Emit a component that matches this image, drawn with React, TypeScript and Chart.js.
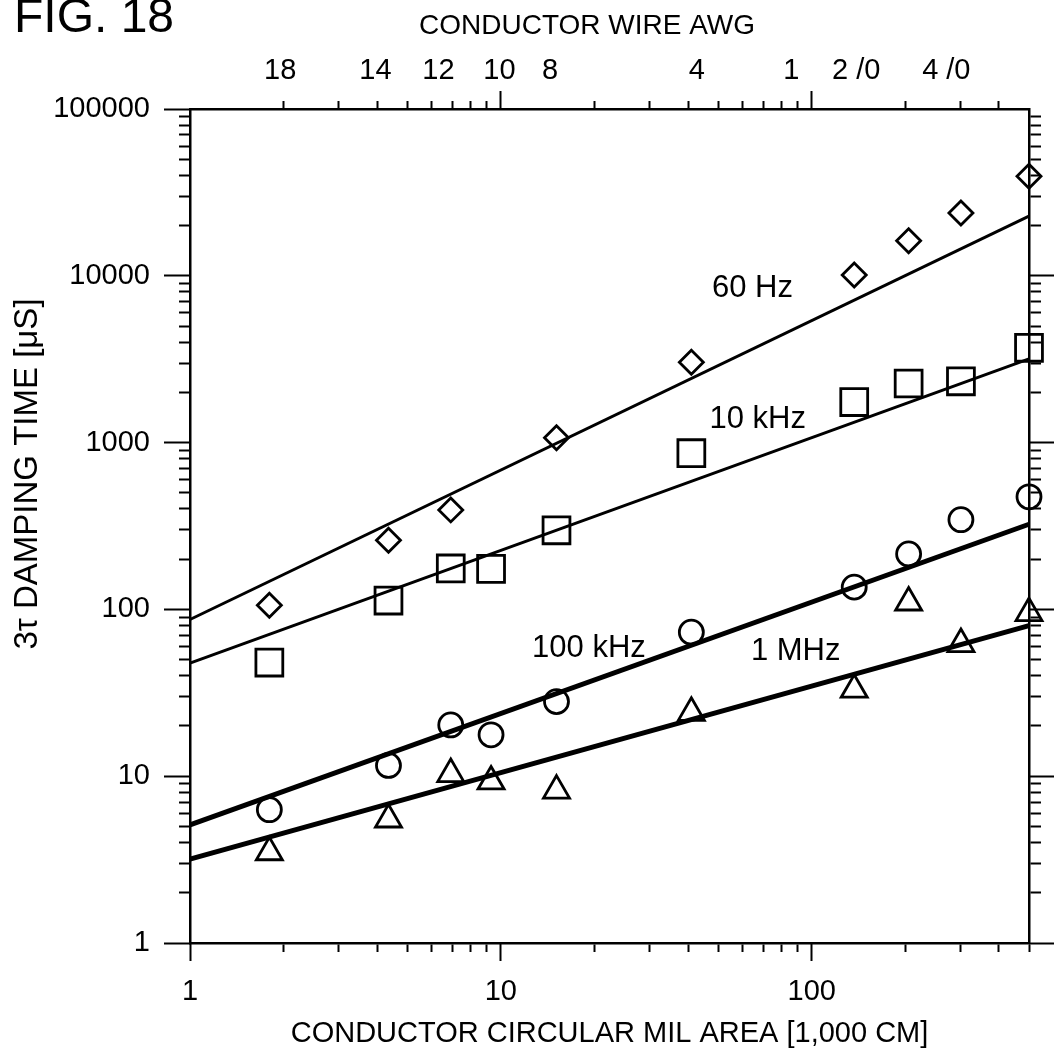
import { useEffect, useRef } from 'react';
import { Chart, registerables } from 'chart.js';

Chart.register(...registerables);

// Conductor size of each tested wire, in thousands of circular mils
const WIRE_KCMIL = [1.8, 4.35, 6.9, 9.3, 15.1, 41, 137, 205, 302, 500];

// Measured 3τ damping time in µs for each wire, per test frequency
const DAMP_60HZ = [106, 260, 395, null, 1070, 3030, 10100, 16200, 23800, 39500];
const DAMP_10KHZ = [48, 113, 176, 175, 298, 864, 1750, 2260, 2330, 3700];
const DAMP_100KHZ = [6.3, 11.6, 20.3, 17.7, 28, 73, 136, 215, 345, 473];
const DAMP_1MHZ = [3.5, 5.5, 10.3, 9.3, 8.2, 24, 33, 110, 62, 95];

// Straight-line fits on log-log axes (end points)
const FIT_X = [1, 500];
const FIT_60HZ = [87, 22800];
const FIT_10KHZ = [47.6, 3180];
const FIT_100KHZ = [5.1, 324];
const FIT_1MHZ = [3.18, 80];

// In-plot series captions and where they sit (data coordinates)
const SERIES_LABELS = ['60 Hz', '10 kHz', '100 kHz', '1 MHz'];
const LABEL_X = [64.5, 67, 19.2, 88.8];
const LABEL_Y = [8420, 1377, 58, 56];

// Wire gauge labels along the top edge
const AWG_LABELS = ['18', '14', '12', '10', '8', '4', '1', '2 /0', '4 /0'];
const AWG_KCMIL = [1.95, 3.95, 6.3, 9.9, 14.4, 42.7, 86, 139, 271];

// Axis ticks
const X_MAJOR = [1, 10, 100];
const X_MINOR_BOTTOM = [2, 3, 4, 5, 6, 7, 8, 9, 20, 30, 40, 50, 60, 70, 80, 90, 200, 300, 400, 500];
const X_MINOR_TOP = [2, 3, 4, 5, 6, 7, 8, 9, 20, 30, 40, 50, 60, 70, 80, 90, 200, 300, 400];
const X_MAJOR_TOP = [10, 100];
const Y_MAJOR = [1, 10, 100, 1000, 10000, 100000];
const Y_MAJOR_RIGHT = [1, 10, 100, 1000, 10000];
const Y_DECADES = [1, 10, 100, 1000, 10000];
const MULTIPLES = [2, 3, 4, 5, 6, 7, 8, 9];
const Y_MINOR = Y_DECADES.flatMap((d) => MULTIPLES.map((m) => m * d));

const X_TITLE = 'CONDUCTOR CIRCULAR MIL AREA [1,000 CM]';
const TOP_TITLE = 'CONDUCTOR WIRE AWG';
const Y_TITLE = '3τ DAMPING TIME [μS]';

const FONT = '"Liberation Sans", Arial, sans-serif';
const INK = '#000';

const W = 1059;
const H = 1054;
const AREA = { left: 190, right: 1029, top: 109, bottom: 943 };

const pts = (xs: number[], ys: (number | null)[]) => xs.map((x, i) => ({ x, y: ys[i] }));

const setTicks = (values: number[]) => (scale: any) => {
  scale.ticks = values.map((value) => ({ value }));
};

const markGrid = (len: number) => ({
  display: true,
  drawOnChartArea: false,
  drawTicks: true,
  tickLength: len,
  tickWidth: 2,
  tickColor: INK,
  color: INK,
});

const textPlugin = {
  id: 'figureText',
  afterDatasetsDraw(chart: any) {
    const { ctx } = chart;
    const xs = chart.scales.x;
    const ys = chart.scales.y;
    ctx.save();
    ctx.fillStyle = INK;
    ctx.textAlign = 'center';
    ctx.textBaseline = 'middle';
    ctx.font = `31px ${FONT}`;
    SERIES_LABELS.forEach((t, i) => {
      ctx.fillText(t, xs.getPixelForValue(LABEL_X[i]), ys.getPixelForValue(LABEL_Y[i]));
    });
    ctx.font = `28px ${FONT}`;
    ctx.fillText(TOP_TITLE, 587, 26);
    ctx.translate(28, 474);
    ctx.rotate(-Math.PI / 2);
    ctx.font = `33px ${FONT}`;
    ctx.fillText(Y_TITLE, 0, 0);
    ctx.restore();
  },
};

export default function App() {
  const canvasRef = useRef<HTMLCanvasElement | null>(null);

  useEffect(() => {
    const canvas = canvasRef.current;
    if (!canvas) return;

    const marker = (label: string, ys: (number | null)[], style: string, radius: number) => ({
      label,
      data: pts(WIRE_KCMIL, ys),
      pointStyle: style,
      pointRadius: radius,
      pointBorderWidth: 2.8,
      pointBorderColor: INK,
      pointBackgroundColor: 'rgba(0,0,0,0)',
      showLine: false,
      clip: false,
    });
    const fit = (label: string, ys: number[], width: number) => ({
      label,
      data: pts(FIT_X, ys),
      showLine: true,
      borderColor: INK,
      borderWidth: width,
      pointRadius: 0,
      fill: false,
      clip: false,
    });

    const logX = { type: 'logarithmic', min: 1, max: 500 };
    const logY = { type: 'logarithmic', min: 1, max: 100000 };

    const chart = new Chart(canvas, {
      type: 'scatter',
      data: {
        datasets: [
          fit('60 Hz fit', FIT_60HZ, 3),
          fit('10 kHz fit', FIT_10KHZ, 3),
          fit('100 kHz fit', FIT_100KHZ, 5),
          fit('1 MHz fit', FIT_1MHZ, 5),
          marker('60 Hz', DAMP_60HZ, 'rectRot', 12),
          marker('10 kHz', DAMP_10KHZ, 'rect', 19),
          marker('100 kHz', DAMP_100KHZ, 'circle', 12),
          marker('1 MHz', DAMP_1MHZ, 'triangle', 15),
        ],
      } as any,
      options: {
        animation: false,
        responsive: false,
        maintainAspectRatio: false,
        devicePixelRatio: 1,
        layout: { padding: 0 },
        plugins: { legend: { display: false }, tooltip: { enabled: false } },
        events: [],
        scales: {
          x: {
            ...logX,
            position: 'bottom',
            weight: 0,
            afterBuildTicks: setTicks(X_MINOR_BOTTOM),
            ticks: { display: false },
            grid: markGrid(9),
            border: { display: true, width: 2.5, color: INK },
            afterFit: (s: any) => { s.height = 0; },
          },
          xMajor: {
            ...logX,
            position: 'bottom',
            weight: 1,
            afterBuildTicks: setTicks(X_MAJOR),
            ticks: {
              display: true,
              autoSkip: false,
              maxRotation: 0,
              padding: 14,
              color: INK,
              font: { family: FONT, size: 29 },
              callback: (v: any) => String(v),
            },
            grid: markGrid(18),
            border: { display: false },
            title: {
              display: true,
              text: X_TITLE,
              color: INK,
              font: { family: FONT, size: 29 },
              padding: { top: 0, bottom: 3 },
            },
            afterFit: (s: any) => { s.height = H - AREA.bottom; },
          },
          xTop: {
            ...logX,
            position: 'top',
            weight: 0,
            afterBuildTicks: setTicks(X_MINOR_TOP),
            ticks: { display: false },
            grid: markGrid(8),
            border: { display: true, width: 2.5, color: INK },
            afterFit: (s: any) => { s.height = 0; },
          },
          xTopMajor: {
            ...logX,
            position: 'top',
            weight: 1,
            afterBuildTicks: setTicks(X_MAJOR_TOP),
            ticks: { display: false },
            grid: markGrid(18),
            border: { display: false },
            afterFit: (s: any) => { s.height = 0; },
          },
          awg: {
            ...logX,
            position: 'top',
            weight: 2,
            afterBuildTicks: setTicks(AWG_KCMIL),
            ticks: {
              display: true,
              autoSkip: false,
              maxRotation: 0,
              padding: 21,
              color: INK,
              font: { family: FONT, size: 29 },
              callback: (_v: any, i: number) => AWG_LABELS[i],
            },
            grid: { display: false, drawTicks: false },
            border: { display: false },
            afterFit: (s: any) => { s.height = AREA.top; },
          },
          y: {
            ...logY,
            position: 'left',
            weight: 0,
            afterBuildTicks: setTicks(Y_MINOR),
            ticks: { display: false },
            grid: markGrid(11),
            border: { display: true, width: 2.5, color: INK },
            afterFit: (s: any) => { s.width = 0; },
          },
          yMajor: {
            ...logY,
            position: 'left',
            weight: 1,
            afterBuildTicks: setTicks(Y_MAJOR),
            ticks: {
              display: true,
              autoSkip: false,
              padding: 14,
              color: INK,
              font: { family: FONT, size: 29 },
              callback: (v: any) => String(v),
            },
            grid: markGrid(26),
            border: { display: false },
            afterFit: (s: any) => { s.width = AREA.left; },
          },
          yRight: {
            ...logY,
            position: 'right',
            weight: 0,
            afterBuildTicks: setTicks(Y_MINOR),
            ticks: { display: false },
            grid: markGrid(12),
            border: { display: true, width: 2.5, color: INK },
            afterFit: (s: any) => { s.width = 0; },
          },
          yRightMajor: {
            ...logY,
            position: 'right',
            weight: 1,
            afterBuildTicks: setTicks(Y_MAJOR_RIGHT),
            ticks: { display: false },
            grid: markGrid(25),
            border: { display: false },
            afterFit: (s: any) => { s.width = W - AREA.right; },
          },
        },
      } as any,
      plugins: [textPlugin],
    });

    return () => chart.destroy();
  }, []);

  return (
    <div style={{ position: 'absolute', left: 0, top: 0, width: W, height: H, background: '#fff', overflow: 'hidden' }}>
      <div
        style={{
          position: 'absolute',
          left: 14,
          top: -8,
          font: `48px ${FONT}`,
          lineHeight: '48px',
          color: INK,
          whiteSpace: 'nowrap',
        }}
      >
        FIG. 18
      </div>
      <canvas ref={canvasRef} width={W} height={H} style={{ display: 'block' }} />
    </div>
  );
}
